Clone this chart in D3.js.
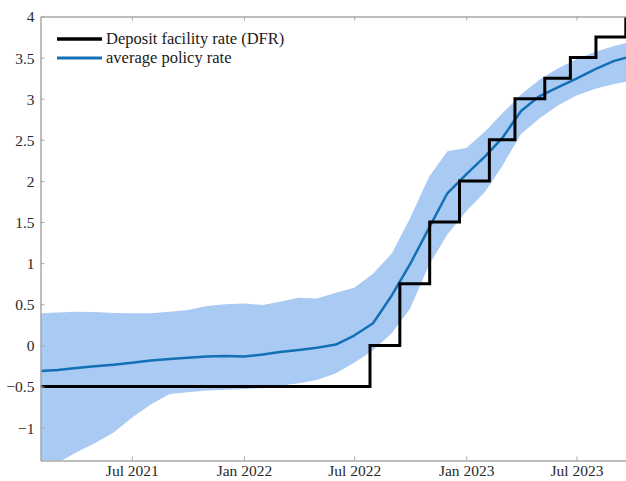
<!DOCTYPE html>
<html>
<head>
<meta charset="utf-8">
<script src="https://cdn.jsdelivr.net/npm/d3@7"></script>
<style>
  html, body { margin: 0; padding: 0; background: #fff; }
  svg { display: block; }
  svg text { font-family: "Liberation Serif", "Times New Roman", serif; }
</style>
</head>
<body>
<svg id="chart" width="626" height="481"></svg>
<script>
// Monthly observations of the average policy rate and its uncertainty band
const months = [
  "2021-02","2021-03","2021-04","2021-05","2021-06","2021-07","2021-08","2021-09",
  "2021-10","2021-11","2021-12","2022-01","2022-02","2022-03","2022-04","2022-05",
  "2022-06","2022-07","2022-08","2022-09","2022-10","2022-11","2022-12","2023-01",
  "2023-02","2023-03","2023-04","2023-05","2023-06","2023-07","2023-08","2023-09","2023-10"
];
const avgRate = [
  -0.31, -0.30, -0.275, -0.255, -0.235, -0.21, -0.185, -0.165,
  -0.15, -0.135, -0.13, -0.135, -0.11, -0.08, -0.055, -0.03,
  0.01, 0.12, 0.27, 0.61, 0.99, 1.43, 1.85, 2.08,
  2.30, 2.52, 2.85, 3.03, 3.14, 3.245, 3.36, 3.46, 3.52
];
const bandUpper = [
  0.39, 0.40, 0.41, 0.405, 0.395, 0.39, 0.39, 0.41,
  0.43, 0.48, 0.50, 0.51, 0.49, 0.53, 0.58, 0.57,
  0.64, 0.70, 0.87, 1.12, 1.55, 2.05, 2.36, 2.40,
  2.60, 2.82, 3.05, 3.23, 3.37, 3.48, 3.57, 3.64, 3.70
];
const bandLower = [
  -1.72, -1.43, -1.30, -1.19, -1.06, -0.88, -0.72, -0.59,
  -0.57, -0.55, -0.54, -0.53, -0.52, -0.49, -0.46, -0.42,
  -0.34, -0.21, -0.06, 0.15, 0.45, 0.98, 1.35, 1.63,
  1.87, 2.18, 2.57, 2.76, 2.92, 3.04, 3.12, 3.18, 3.22
];

// ECB deposit facility rate: effective dates of each change
const dfrDates = [
  "2021-02-01","2022-07-27","2022-09-14","2022-11-02","2022-12-21",
  "2023-02-08","2023-03-22","2023-05-10","2023-06-21","2023-08-02","2023-09-20"
];
const dfrValues = [-0.5, 0, 0.75, 1.5, 2.0, 2.5, 3.0, 3.25, 3.5, 3.75, 4.0];

const xTickDates = ["2021-07-01","2022-01-01","2022-07-01","2023-01-01","2023-07-01"];
const xTickLabels = ["Jul 2021","Jan 2022","Jul 2022","Jan 2023","Jul 2023"];
const yTicks = [-1, -0.5, 0, 0.5, 1, 1.5, 2, 2.5, 3, 3.5, 4];

const seriesNames = ["Deposit facility rate (DFR)", "average policy rate"];

const W = 626, H = 481;
const parseMonth = d3.timeParse("%Y-%m");
const parseDay = d3.timeParse("%Y-%m-%d");

const plotLeft = 40.5, plotTop = 16.5, plotBottom = 460.5, plotRightEnd = 632.5;

const x = d3.scaleTime()
  .domain([parseDay("2021-02-01"), parseDay("2023-10-01")])
  .range([plotLeft, plotRightEnd]);
const y = d3.scaleLinear().domain([-1.4, 4]).range([plotBottom, plotTop]);

const svg = d3.select("#chart");
const fontFamily = "'Liberation Serif', 'Times New Roman', serif";

svg.append("defs").append("clipPath").attr("id", "plotClip")
  .append("rect")
  .attr("x", plotLeft).attr("y", plotTop)
  .attr("width", W - plotLeft).attr("height", plotBottom - plotTop);

const avgData = months.map((m, i) => ({ date: parseMonth(m), v: avgRate[i], lo: bandLower[i], hi: bandUpper[i] }));
const dfrData = dfrDates.map((d, i) => ({ date: parseDay(d), v: dfrValues[i] }));

const plot = svg.append("g").attr("clip-path", "url(#plotClip)");

// uncertainty band
plot.append("path")
  .datum(avgData)
  .attr("fill", "#a9caf3")
  .attr("stroke", "none")
  .attr("d", d3.area()
    .x(d => x(d.date))
    .y0(d => y(d.lo))
    .y1(d => y(d.hi)));

// average policy rate
plot.append("path")
  .datum(avgData)
  .attr("fill", "none")
  .attr("stroke", "#1370b5")
  .attr("stroke-width", 2.5)
  .attr("stroke-linejoin", "round")
  .attr("d", d3.line().x(d => x(d.date)).y(d => y(d.v)));

// deposit facility rate as a step function
plot.append("path")
  .datum(dfrData)
  .attr("fill", "none")
  .attr("stroke", "#000")
  .attr("stroke-width", 3)
  .attr("d", d3.line().curve(d3.curveStepAfter).x(d => x(d.date)).y(d => y(d.v)));

// axes
const axisColor = "#a8a8a8";
const textColor = "#2a2a2a";

const yAxis = svg.append("g")
  .attr("transform", `translate(${plotLeft},0)`)
  .call(d3.axisLeft(y).tickValues(yTicks).tickFormat(d3.format("")).tickSizeInner(-4).tickSizeOuter(0).tickPadding(6));

const xTicks = xTickDates.map(parseDay);
const xAxis = svg.append("g")
  .attr("transform", `translate(0,${plotBottom})`)
  .call(d3.axisBottom(x).tickValues(xTicks)
    .tickFormat((d, i) => xTickLabels[i]).tickSizeInner(-4).tickSizeOuter(0).tickPadding(4));

const xTop = svg.append("g")
  .attr("transform", `translate(0,${plotTop})`)
  .call(d3.axisTop(x).tickValues(xTicks).tickFormat("").tickSizeInner(-4).tickSizeOuter(0));

[yAxis, xAxis, xTop].forEach(g => {
  g.attr("font-family", fontFamily).attr("font-size", 15.5);
  g.select(".domain").attr("stroke", axisColor).attr("stroke-width", 1.5);
  g.selectAll(".tick line").attr("stroke", axisColor).attr("stroke-width", 1);
  g.selectAll(".tick text")
    .attr("fill", textColor)
    .attr("font-family", fontFamily)
    .attr("font-size", 15.5);
});
yAxis.selectAll(".tick text").attr("dy", "0.35em");

// legend
const legend = svg.append("g").attr("font-family", fontFamily);
const legendItems = [
  { name: seriesNames[0], color: "#000", width: 3.5 },
  { name: seriesNames[1], color: "#1370b5", width: 3 }
];
legendItems.forEach((item, i) => {
  const ly = 39 + i * 19;
  legend.append("line")
    .attr("x1", 57).attr("x2", 102)
    .attr("y1", ly).attr("y2", ly)
    .attr("stroke", item.color).attr("stroke-width", item.width);
  legend.append("text")
    .attr("x", 106).attr("y", ly)
    .attr("dy", "0.33em")
    .attr("fill", "#1a1a1a")
    .attr("font-family", fontFamily)
    .attr("font-size", 16.5)
    .text(item.name);
});
</script>
</body>
</html>
